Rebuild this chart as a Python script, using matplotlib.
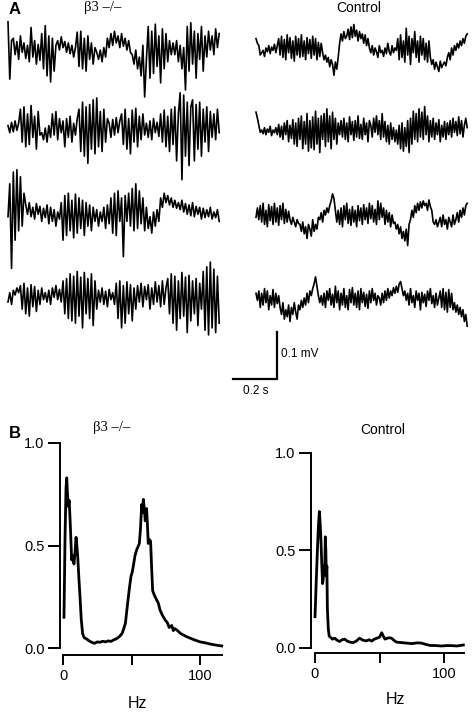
import numpy as np
import matplotlib
matplotlib.use('Agg')
import matplotlib.pyplot as plt

plt.rcParams['font.family'] = ['Liberation Sans', 'DejaVu Sans']

# ---- Panel A: EEG traces, values in microvolts ----
ko_trace1 = [60, -62, 20,
             25, -10, 18, -20, 30, -5, 15, -18, 10, -25,
             48, -15, 20, -30, 12, -22,
             35, -40, 52, -55, 30, -68, 25, -45, 10,
             20, 0, 28, 5, 18, -5, 15, -8, 10, -15, 5,
             38, -35, 40, -40, 25, -45, 30, -20, 15, -30, 5,
             -5, -20, 0, -25, 5, -15,
             25, 5, 35, 10, 40, 15, 30, 5, 35, 8, 25, 0, 20, -5,
             -10, -30, 0, -40, -15, -55, 10, -100, -20,
             50, -60, 40, -50, 55, -35, 30, -70, 45, -40, 35, -25, 20, -10,
             15, -10, 20, -25, 10, -40, 5, -85,
             50, -45, 58, -30, 40, -60, 35, -20, 50, -45, 30, -15,
             40, 0, 30, -10, 45, 5, 35]
ko_trace2 = [5, -10, 12, -8, 15, -5, 10,
             40, -30, 45, -40, 30, -35, 48, -20, 25, -45, 35, -15,
             -10, -25, 0, -30, 5, -20,
             30, -15, 35, -25, 20, -10,
             15, -40, 20, -20, 25, -30, 10, -15, 20,
             40, -50, 55, -60, 45, -75, 50, -45, 60, -55, 64, -40, 35, -50, 40, -30, 20,
             10, -20, 18, -15, 22, -10, 15,
             30, -35, 40, -45, 20, -55, 38, -30, 42, -40, 25, -25, 30, -15,
             10, -20, 15, -25, 20, -10, 12, -18,
             30, -30, 38, -40, 25, -50, 40, -35, 45, -70, 30,
             75, -110, 70, -60, 55, -80, 45,
             60, -70, 50, -45, 55, -60, 40, -30, 45, -50, 35, -20, 30, -25, 40, -10]
ko_trace3 = [-10, 60, -120, 85, -60, 90, -40, 75, -30, 40,
             15, -5, 20, -10, 10, -15, 18, -5, 12, -20, 8, -12, 15, -25, 10, -20, 5, -30, 0, -15,
             20, -60, 35, -50, 40, -40, 25, -55, 38, -45, 30, -35, 25, -50, 20, -30, 15, -40, 10, -20,
             5, -30, 0, -20, 10, -35, 15, -25,
             30, -45, 40, -50, 45, -20, 30, -95, 35, -20,
             40, -30, 50, -40, 60, -35, 45, -25, 30, -40,
             10, -35, -10, -45, 0, -30, 5, -20,
             30, 10, 40, 20, 35, 15, 30, 10, 25, 8,
             20, 5, 25, 0, 18, -5, 15, -8, 20, -10, 12, -5, 10, -15, 8, -12, 5, -10, 10, -15,
             0, -12, 5, -20]
ko_trace4 = [-15, 5, -20, 10, 0, 15, 5,
             20, -30, 25, -40, 15, -45, 22, -25, 18, -35, 10, -20, 15, -10,
             5, -15, 10, -20, 15, -5, 20, -10, 12, -15,
             30, -40, 35, -50, 45, -55, 40, -60, 50, -45, 38, -70, 48, -40, 35, -50, 45, -65, 30, -30,
             10, -15, 15, -20, 8, -25, 12, -10, 5, -20,
             25, -50, 30, -70, 20, -60, 28, -40, 22, -55, 15, -30,
             20, -15, 25, -25, 18, -10, 22, -30, 15, -20, 28, -15, 20, -25, 30, -20, 15,
             35, -40, 45, -60, 40, -75, 30, -50, 48, -45, 38, -80, 42, -55, 30, -40, 35, -65, 25, -30,
             50, -75, 60, -85, 70, -70, 55, -80, 40, -60]

ctl_trace1 = [20, 10, 5, -15, -10, -5, -18, 0, -8, 5, -12, 2, -5, 8, -10, 5,
              20, -15, 25, -20, 18, -25, 28, -10, 22, -22, 15, -28, 25, -15, 20, -20,
              28, -18, 15, -25, 22, -12, 18, -22, 25, -15, 20, -25, 12, -18, 10,
              -10, -25, -15, -30, -20, -40, -25, -35, -58, -30, -45, -20,
              10, 30, 15, 35, 20, 25, 40, 18, 45, 22, 50, 25, 38, 15, 35, 20, 30, 10, 28, 5, 20, 0,
              -10, 5, -15, 0, -8, -20, 5, -10, -5, -18, 0, -12, 10, -8, -15, 5, -10, 0, -5,
              20, -25, 28, -20, 15, -30, 42, -15, 25, -35, 20, -10, 35, -20, 15, -30, 25, -15,
              20, -25, 10, -30, 15,
              -20, -35, -25, -45, -30, -40, -50, -28, -42, -35, -30, -38,
              -20, -10, -25, 0, -15, 5, -5, 10, 0, 15, 5, 20, 10, 25, 30]
ctl_trace2 = [38, 25, 10, -5, 0, -8, 5, -10, 2, -5, 8, -12, 0, -6, 5, -10,
              12, -15, 8, -20, 15, -10, 20, -25, 10, -18, 22, -30, 15, -35, 25, -20,
              30, -40, 18, -30, 35, -45, 20, -38, 28, -42, 40, -30, 25, -48, 30,
              -20, 35, -35, 45, -25, 30, -40, 38, -20, 25, -30, 15,
              -10, 20, -15, 25, -20, 15, -25, 28, -10, 18, -22, 20, -15, 30, -18, 12, -20, 25,
              -10, 15, -25, 20,
              10, -15, 25, -5, 30, -10, 20, -20, 35, -15, 18, -25, 10, -30, 15, -20, 5, -25, 0,
              -30, 10, -40, 15, -45, 5, -35, 20, -48, 25, -30, 40, -20, 35, -25, 45, -15, 38,
              -20, 50, -10, 30, -25,
              20, -15, 25, -20, 15, -10, 22, -25, 10, -15, 18, -20,
              15, -10, 20, -15, 25, -5, 18, -12, 28, -8, 20, -15, 10, 25, 5]
ctl_trace3 = [-5, 15, -10, 20, -15, 25, -20, 10, -25, 22, -12, 18, -20, 25, -15, 15, -22, 20,
              -10, 25, -18, 12, -15, 8,
              -10, -20, -5, -15, -25, -10, -18,
              -20, -35, -15, -40, -25, -50, -20, -30, -45, -10, -35, -20, -30, -5,
              -10, 5, -15, 10, 0, 15, 5, 20, 30, 45,
              35, 10, -15,
              10, -20, 15, -25, 20, -10, 25, -18, 12, -22, 18, -15, 10, -25, 20, -12, 15, -20,
              22, -10, 15, -18, 25, -8, 20, -15, 12, -20, 30, -10, 25, -5, 15, -20, 10, -15,
              5, -25, 0, -18,
              -15, -30, -20, -40, -25, -50, -35, -55, -30, -65, -20,
              -10, 10, -5, 20, 5, 25, 10, 28, 15, 30, 20, 25, 10, 32, 18,
              10, -15, -20, -10, -25,
              -15, -5, -25, 0, -20, -10, -30, -5, -15, -25, 0, -20, -10, 5, -15, 10, -5, 15,
              0, 20, 25]
ctl_trace4 = [10, -5, 15, -20, 10, -15, 20, -10, 15, -25, 5, -15, 18, -20, 10, -12, 5,
              -20, -35, -10, -45, -25, -40, -15, -50, -20, -35, -10, -30, -45, -15, -25, -5, -20,
              0, -15, 10, -10, 15, 5, 20, 30,
              45, 25, 5,
              -10, 5, -15, 10, -20, 15, -5, 20, -15, 8, -20, 25, -10, 15, -25, 10, -15, 20,
              -20, 5, -25, 18, -10, 22, -15, 10, -20, 15, -25, 20, -10, 12, -18, 8, -22, 15,
              -10, 20, -5, 10, -15, 5,
              0, -15, 10, -10, 15, -5, 20, 0, 15, 5, 22, 10, 25, 12, 30, 35,
              20, 5, 15, -5, 10, -15, 20, -10, 5, -20, 15, -5, 10, -25, 12, -10, 8, -18,
              15, -5, 20, -12, 5, -20, 10, -15, 0,
              15, -20, 20, -25, 12, -30, 18, -20, 10, -25,
              -10, -30, -15, -35, -20, -40, -25, -50, -35, -60]

ko_traces = [ko_trace1, ko_trace2, ko_trace3, ko_trace4]
ctl_traces = [ctl_trace1, ctl_trace2, ctl_trace3, ctl_trace4]
trace_len_s = 0.96

# ---- Panel B: normalised power spectra ----
freq_ko = [0.7, 1.5, 2.2, 2.7, 3.2, 3.9, 4.5, 5.2, 5.8, 6.3, 7.0, 8.0, 8.8, 9.5, 10.1,
           10.7, 11.5, 12.4, 13.3, 14.3, 15.5, 17, 19, 21, 23, 25, 27, 29, 31, 33, 35,
           37, 39, 41, 43, 44, 45.5, 46.5, 47.7, 48.6, 49.6, 50.5, 51.3, 52.5, 53.8,
           55.7, 56.5, 57.4, 58.0, 58.6, 59.3, 60.0, 61.0, 61.6, 62.2, 63.0, 63.9, 64.6,
           65.4, 66.5, 68.3, 69.5, 70.8, 72.5, 74.5, 76, 77.5, 79.3, 80.5, 81.5, 83, 86,
           90.3, 95, 100, 104, 107, 111, 115.8]
power_ko = [0.15, 0.55, 0.78, 0.83, 0.76, 0.69, 0.72, 0.62, 0.52, 0.43, 0.45, 0.41, 0.47,
            0.54, 0.50, 0.45, 0.35, 0.25, 0.14, 0.07, 0.05, 0.045, 0.035, 0.028, 0.023,
            0.03, 0.028, 0.033, 0.03, 0.035, 0.032, 0.04, 0.045, 0.055, 0.07, 0.088, 0.12,
            0.18, 0.25, 0.30, 0.35, 0.37, 0.40, 0.45, 0.48, 0.51, 0.58, 0.70, 0.66, 0.725,
            0.68, 0.62, 0.68, 0.60, 0.51, 0.53, 0.52, 0.40, 0.28, 0.26, 0.235, 0.22, 0.185,
            0.16, 0.137, 0.125, 0.10, 0.11, 0.085, 0.095, 0.088, 0.07, 0.055, 0.042, 0.03,
            0.025, 0.02, 0.015, 0.01]
freq_ctl = [0, 1.0, 1.8, 2.6, 3.4, 4.0, 4.7, 5.3, 5.9, 6.5, 7.0, 7.5, 8.0, 8.4, 8.8, 9.2,
            9.6, 10.3, 11, 12, 13.5, 15.3, 17, 19, 21, 23, 25, 27, 29.5, 32, 34.5, 37,
            39.7, 42, 44, 46, 48, 50, 51.7, 53, 54.3, 56, 57.5, 59.4, 61, 63, 66, 70.8,
            75, 79, 82.4, 86, 89, 94, 98, 102, 106, 110, 115]
power_ctl = [0.16, 0.35, 0.49, 0.62, 0.70, 0.64, 0.54, 0.42, 0.33, 0.36, 0.42, 0.38, 0.57,
             0.50, 0.37, 0.42, 0.20, 0.10, 0.06, 0.055, 0.045, 0.05, 0.04, 0.033, 0.042,
             0.045, 0.035, 0.03, 0.027, 0.035, 0.05, 0.04, 0.036, 0.042, 0.035, 0.045,
             0.05, 0.055, 0.078, 0.06, 0.045, 0.05, 0.052, 0.05, 0.04, 0.03, 0.028, 0.025,
             0.022, 0.026, 0.025, 0.018, 0.013, 0.012, 0.01, 0.012, 0.012, 0.01, 0.015]

W, H = 474, 720
fig = plt.figure(figsize=(W / 100, H / 100), dpi=100)


def px_box(x0, y0, x1, y1):
    # pixel box (top-left origin) -> figure fraction rect
    return [x0 / W, 1 - y1 / H, (x1 - x0) / W, (y1 - y0) / H]


def ftext(x, y, s, **kw):
    fig.text(x / W, 1 - y / H, s, **kw)


# ---- A: traces drawn in seconds / mV, 220 px per s, 470 px per mV ----
axA = fig.add_axes(px_box(0, 0, W, 400))
axA.set_xlim(0, W / 220)
axA.set_ylim(-400 / 470, 0)
axA.axis('off')

ko_rows = [50, 128, 212, 295]
ctl_rows = [48, 130, 215, 298]
for tr, row in zip(ko_traces, ko_rows):
    t = np.linspace(8 / 220, 8 / 220 + trace_len_s, len(tr))
    axA.plot(t, np.array(tr) / 1000 - row / 470, color='black', lw=1.2)
for tr, row in zip(ctl_traces, ctl_rows):
    t = np.linspace(256 / 220, 256 / 220 + trace_len_s, len(tr))
    axA.plot(t, np.array(tr) / 1000 - row / 470, color='black', lw=1.2)

# scale bar: 0.1 mV, 0.2 s
bx, by = 277 / 220, -379 / 470
axA.plot([bx - 0.2, bx, bx], [by, by, by + 0.1], color='black', lw=1.6,
         solid_joinstyle='miter')
ftext(281, 354, '0.1 mV', fontsize=8.5, va='center', ha='left')
ftext(256, 391, '0.2 s', fontsize=8.5, va='center', ha='center')

ftext(15, 10, 'A', fontsize=12, fontweight='bold', ha='center', va='center')
ftext(103, 8, 'β3 –/–', fontsize=10.5, ha='center', va='center', family='Liberation Serif')
ftext(359, 8, 'Control', fontsize=10, ha='center', va='center')

# ---- B: spectra ----
def spectrum_axes(box, xlim, ylim, freq, power):
    ax = fig.add_axes(px_box(*box))
    ax.plot(freq, power, color='black', lw=2.0, clip_on=False)
    ax.set_xlim(*xlim)
    ax.set_ylim(*ylim)
    for side in ['top', 'right']:
        ax.spines[side].set_visible(False)
    ax.spines['left'].set_bounds(0, 1)
    ax.spines['bottom'].set_bounds(0, xlim[1])
    for side in ['left', 'bottom']:
        ax.spines[side].set_linewidth(1.4)
    ax.set_yticks([0, 0.5, 1.0])
    ax.set_yticklabels(['0.0', '0.5', '1.0'])
    ax.set_xticks([0, 50, 100])
    ax.set_xticklabels(['0', '', '100'])
    ax.tick_params(axis='y', direction='out', length=9, width=1.4, labelsize=10.5, pad=2)
    ax.tick_params(axis='x', direction='out', length=7, width=1.4, labelsize=10.5, pad=3)
    ax.patch.set_visible(False)
    return ax


spectrum_axes((60, 443, 222, 655), (-2.2, 116), (-0.034, 1.0), freq_ko, power_ko)
spectrum_axes((311, 453, 464, 653), (-3.1, 115.5), (-0.026, 1.0), freq_ctl, power_ctl)

ftext(15, 434, 'B', fontsize=12, fontweight='bold', ha='center', va='center')
ftext(112, 428, 'β3 –/–', fontsize=10.5, ha='center', va='center', family='Liberation Serif')
ftext(383, 430, 'Control', fontsize=10, ha='center', va='center')
ftext(137, 703, 'Hz', fontsize=11.5, ha='center', va='center')
ftext(395, 700, 'Hz', fontsize=11.5, ha='center', va='center')

fig.savefig('out.png', dpi=100)
